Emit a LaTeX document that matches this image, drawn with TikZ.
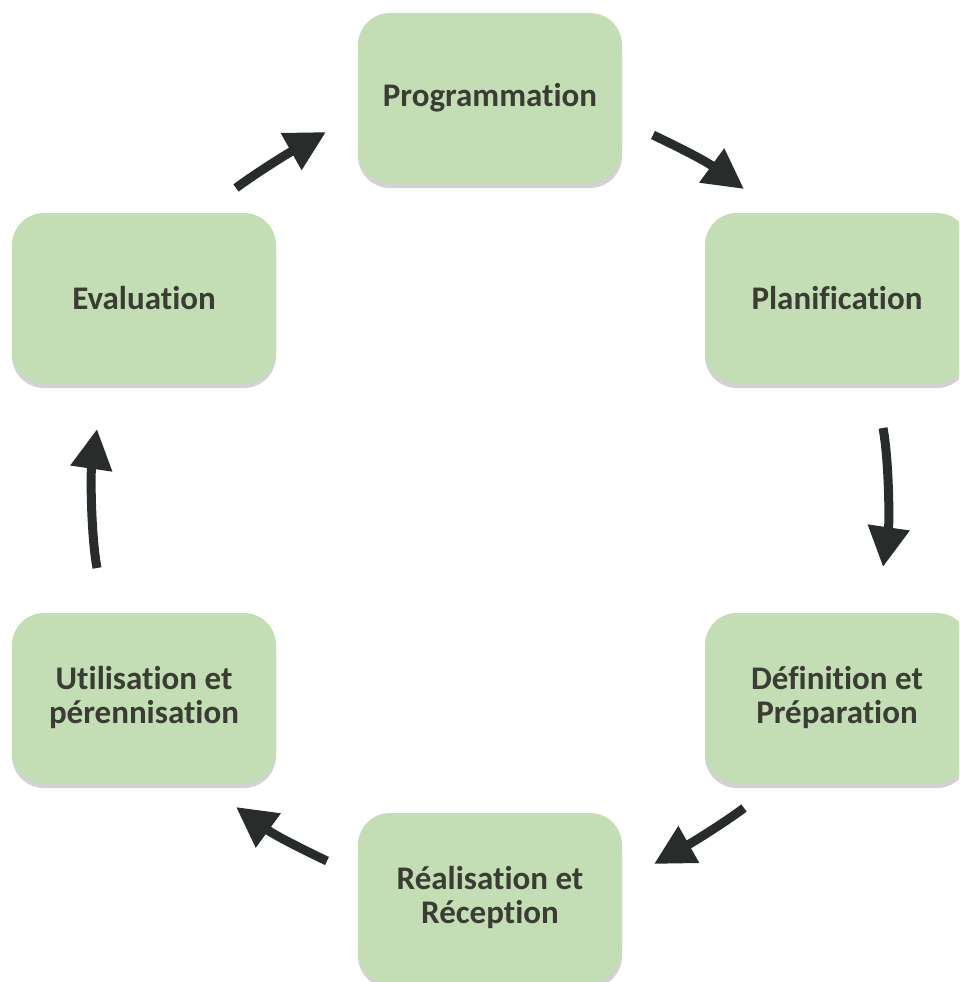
\documentclass[tikz,border=0pt]{standalone}
\usepackage{fontspec}
\setmainfont{Carlito}[Ligatures={NoCommon,NoContextual}]
\usetikzlibrary{arrows.meta,shadows}
\definecolor{boxgreen}{HTML}{C3DDB5}
\definecolor{textgrey}{HTML}{3B3C33}
\definecolor{arrowdark}{HTML}{282C2A}
\begin{document}
\begin{tikzpicture}[x=1pt,y=-1pt,
  stage/.style={rectangle, rounded corners=32pt, fill=boxgreen,
    minimum width=264pt, minimum height=170pt, inner sep=0pt,
    align=center, text=textgrey,
    font=\fontsize{33}{34}\selectfont\bfseries,
    drop shadow={shadow xshift=0pt, shadow yshift=-5pt, fill=black!22, opacity=0.8}},
  flow/.style={line width=9pt, draw=arrowdark,
    -{Triangle[length=40pt,width=40pt]}}]
\useasboundingbox (0,0) rectangle (959,982);
\clip (0,0) rectangle (959,982);

% the six stages of the cycle
\node[stage] (prog)  at (490,98)  {Programmation};
\node[stage] (plan)  at (837,298) {Planification};
\node[stage] (defi)  at (837,698) {Définition et\\Préparation};
\node[stage] (real)  at (490,898) {Réalisation et\\Réception};
\node[stage] (util)  at (144,698) {Utilisation et\\pérennisation};
\node[stage] (eval)  at (144,298) {Evaluation};

% arrow end points between the stages
\coordinate (a1s) at (236,188);  \coordinate (a1e) at (326,132);
\coordinate (a2s) at (653,135);  \coordinate (a2e) at (744,189);
\coordinate (a3s) at (883,428);  \coordinate (a3e) at (883,567);
\coordinate (a4s) at (744,808);  \coordinate (a4e) at (654,864);
\coordinate (a5s) at (327,861);  \coordinate (a5e) at (236,807);
\coordinate (a6s) at (97,568);   \coordinate (a6e) at (97,429);

% clockwise arrows
\draw[flow] (a1s) .. controls (252,176) and (282.5,156.5) .. (a1e);
\draw[flow] (a2s) .. controls (671,143.6) and (703.5,159.5) .. (a2e);
\draw[flow] (a3s) .. controls (889,460) and (889.5,522) .. (a3e);
\draw[flow] (a4s) .. controls (728,820) and (697.5,839.5) .. (a4e);
\draw[flow] (a5s) .. controls (309,852.4) and (276.5,836.5) .. (a5e);
\draw[flow] (a6s) .. controls (91,536) and (90.5,474) .. (a6e);
\end{tikzpicture}
\end{document}
